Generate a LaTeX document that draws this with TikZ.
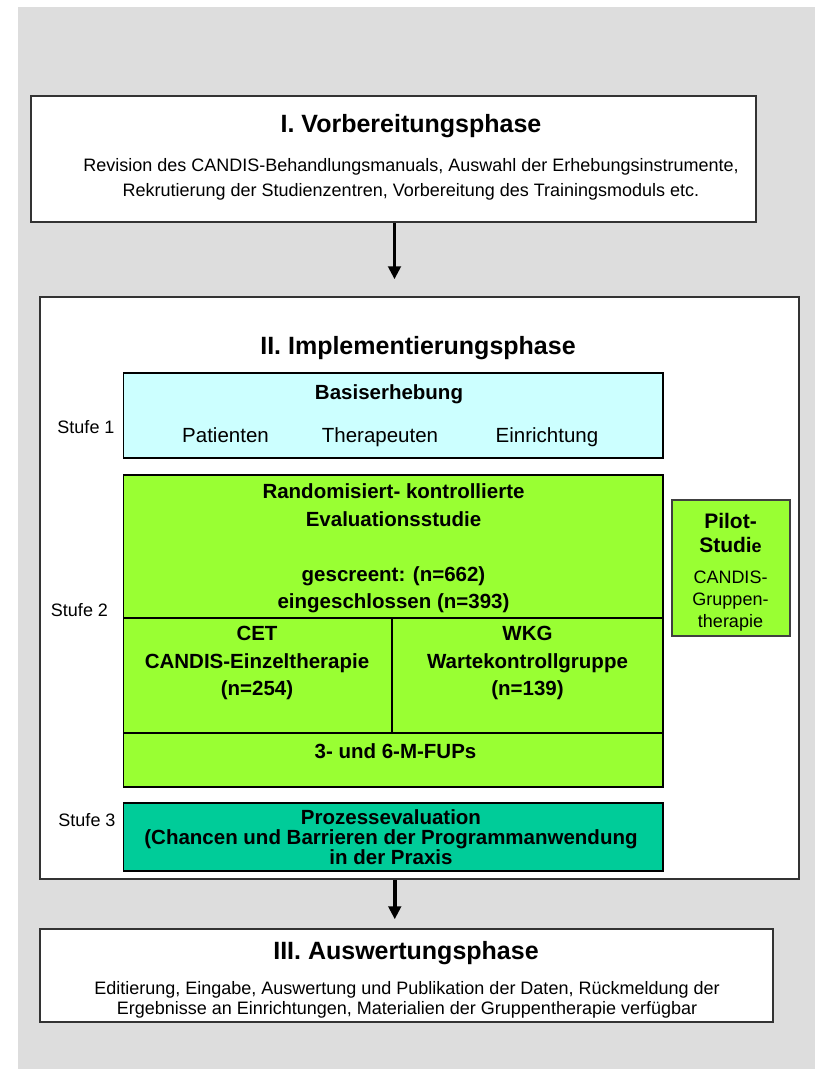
\documentclass[tikz,border=0pt]{standalone}
\usepackage{fontspec}
\setmainfont{Liberation Sans}
\usetikzlibrary{arrows.meta}

\definecolor{bggray}{HTML}{DDDDDD}
\definecolor{basiscyan}{HTML}{CCFFFF}
\definecolor{rctgreen}{HTML}{99FF33}
\definecolor{procteal}{HTML}{00CC99}

\begin{document}
\begin{tikzpicture}[x=1pt,y=-1pt,
  phase/.style={draw=black!80,line width=1.5pt,fill=white,inner sep=0pt},
  cell/.style={draw=black,line width=1.4pt,inner sep=0pt},
  flow/.style={line width=3.8pt,-{Triangle[width=12.5pt,length=13pt]}},
  txt/.style={inner sep=0pt,align=center},
  ttl/.style={txt,font=\fontsize{25}{30}\selectfont\bfseries},
  body/.style={txt,font=\fontsize{18}{25}\selectfont},
  stage/.style={txt,font=\fontsize{18}{22}\selectfont},
  item/.style={inner sep=0pt,text height=.72em,text depth=.21em,font=\fontsize{20.5}{24}\selectfont},
  cellbf/.style={txt,font=\fontsize{20.5}{27.5}\selectfont\bfseries},
]
\useasboundingbox (0,0) rectangle (815,1069);
\fill[bggray] (18,7) rectangle (815,1069);

% phase boxes
\node[phase,minimum width=725pt,minimum height=126pt] (p1) at (393.5,159) {};
\node[phase,minimum width=759pt,minimum height=582pt] (p2) at (419.5,588) {};
\node[phase,minimum width=733pt,minimum height=93pt] (p3) at (406.5,975.5) {};

% phase I
\node[ttl] (p1title) at (411,126) {I. Vorbereitungsphase};
\node[body] (p1text) at (411,179.5) {Revision des CANDIS-Behandlungsmanuals, Auswahl der Erhebungsinstrumente,\\Rekrutierung der Studienzentren, Vorbereitung des Trainingsmoduls etc.};

% phase II
\node[ttl] (p2title) at (418,348) {II. Implementierungsphase};

% Stufe 1: baseline survey
\node[cell,fill=basiscyan,minimum width=539.5pt,minimum height=85pt] (basis) at (393.25,415.5) {};
\node[cellbf] (basistitle) at (389,394) {Basiserhebung};
\node[item] (pat) at (225.5,440) {Patienten};
\node[item] (ther) at (380,440) {Therapeuten};
\node[item] (einr) at (547,440) {Einrichtung};
\node[stage] (s1) at (86,427) {Stufe 1};

% Stufe 2: randomised controlled study
\node[cell,fill=rctgreen,minimum width=539.5pt,minimum height=143pt] (rct) at (393.25,546.5) {};
\node[cell,fill=rctgreen,minimum width=268.5pt,minimum height=115pt] (cet) at (257.75,675.5) {};
\node[cell,fill=rctgreen,minimum width=271pt,minimum height=115pt] (wkg) at (527.5,675.5) {};
\node[cell,fill=rctgreen,minimum width=539.5pt,minimum height=54pt] (fup) at (393.25,760) {};
\node[cellbf] (rcttext) at (393.5,548.5) {Randomisiert- kontrollierte\\Evaluationsstudie\\[27.5pt]gescreent: (n=662)\\eingeschlossen (n=393)};
\node[cellbf] (cettext) at (257,663) {CET\\CANDIS-Einzeltherapie\\(n=254)};
\node[cellbf] (wkgtext) at (527.5,663) {WKG\\Wartekontrollgruppe\\(n=139)};
\node[cellbf] (fuptext) at (395.5,751) {3- und 6-M-FUPs};
\node[stage] (s2) at (79.5,610) {Stufe 2};

% pilot study
\node[cell,draw=black!75,fill=rctgreen,minimum width=118pt,minimum height=136pt] (pilot) at (731,568) {};
\node[txt,font=\fontsize{21}{24}\selectfont\bfseries] (pilottitle) at (730.5,533) {Pilot-\\Studi{\fontsize{18}{24}\selectfont e}};
\node[stage] (pilottext) at (730.5,601) {CANDIS-\\Gruppen-\\therapie};

% Stufe 3: process evaluation
\node[cell,fill=procteal,minimum width=539.5pt,minimum height=68pt] (proc) at (393.25,837) {};
\node[txt,font=\fontsize{20.5}{20}\selectfont\bfseries] (proctext) at (391,837.5) {Prozessevaluation\\(Chancen und Barrieren der Programmanwendung\\in der Praxis};
\node[stage] (s3) at (87,820) {Stufe 3};

% phase III
\node[ttl] (p3title) at (406,953) {III. Auswertungsphase};
\node[txt,font=\fontsize{18}{20}\selectfont] (p3text) at (407,999.5) {Editierung, Eingabe, Auswertung und Publikation der Daten, Rückmeldung der\\Ergebnisse an Einrichtungen, Materialien der Gruppentherapie verfügbar};

% flow arrows
\draw[flow,shorten >=17pt] ([xshift=1pt]p1.south) -- ([xshift=1pt]p1.south |- p2.north);
\draw[flow,shorten >=9pt] ([xshift=1.5pt]proc.south |- p2.south) -- ([xshift=1.5pt]proc.south |- p3.north);
\end{tikzpicture}
\end{document}
